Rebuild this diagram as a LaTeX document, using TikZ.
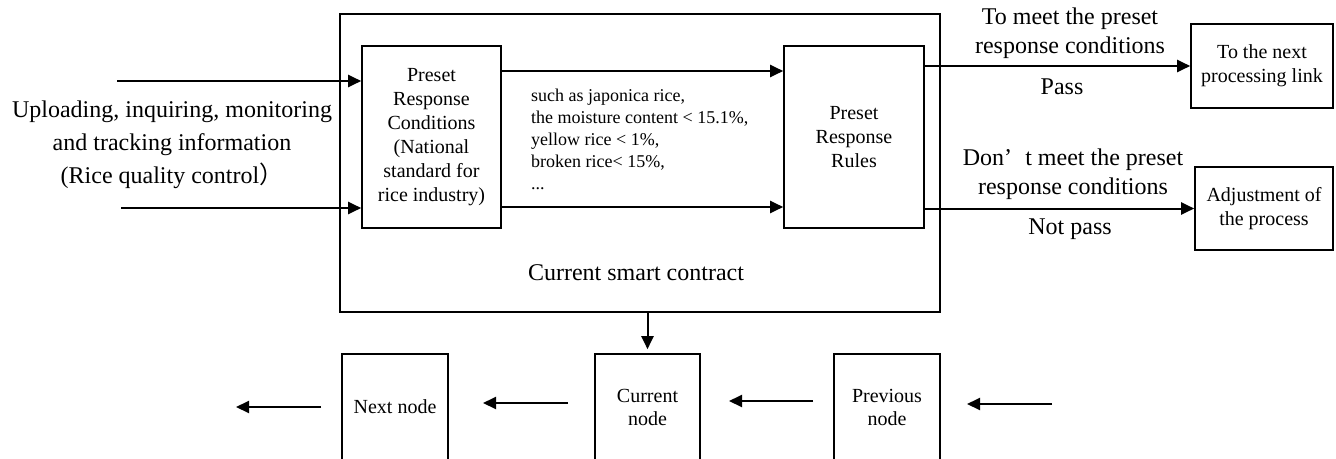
\documentclass[tikz,border=0pt]{standalone}
\usepackage{fontspec}
\setmainfont{Liberation Serif}
\newfontfamily\cjkf{Noto Sans CJK SC}
\usetikzlibrary{arrows.meta}
\begin{document}
\begin{tikzpicture}[x=1pt,y=-1pt,
  box/.style={draw, line width=1.6pt, inner sep=0pt, align=center},
  arr/.style={line width=2pt, -{Triangle[length=13pt,width=12pt]}},
  lbl/.style={inner sep=0pt, align=center},
  fbig/.style={font=\fontsize{24}{29}\selectfont},
  fbox/.style={font=\fontsize{20}{24}\selectfont},
  fnode/.style={font=\fontsize{20}{23}\selectfont}]
\useasboundingbox (0,0) rectangle (1336,458);
\clip (0,0) rectangle (1336,458);
\fill[white] (0,0) rectangle (1336,458);
% main contract box
\node[box, minimum width=600, minimum height=298] (sc) at (640,163) {};
\node[box, fbox, minimum width=139, minimum height=182] (pc) at (431.5,137)
  {Preset\\Response\\Conditions\\(National\\standard for\\rice industry)};
\node[box, fbox, minimum width=140, minimum height=182] (pr) at (854,137)
  {Preset\\Response\\Rules};
\node[lbl, anchor=west, align=left, font=\fontsize{18}{22}\selectfont] (ex) at (531,139)
  {such as japonica rice,\\the moisture content < 15.1\%,\\yellow rice < 1\%,\\broken rice< 15\%,\\...};
\node[lbl, font=\fontsize{24}{29}\selectfont] (sct) at (636,273) {Current smart contract};
% outcome boxes
\node[box, fbox, minimum width=142, minimum height=84] (nl) at (1262,66)
  {To the next\\processing link};
\node[box, fbox, minimum width=138, minimum height=83] (ad) at (1264,208.5)
  {Adjustment of\\the process};
% outcome labels
\node[lbl, fbig] (t1) at (1070,33) {To meet the preset\\response conditions};
\node[lbl, fbig] (t2) at (1062,87) {Pass};
\node[lbl, fbig] (t3) at (1073,174) {Don’\hspace{0.55em}t meet the preset\\response conditions};
\node[lbl, fbig] (t4) at (1070,229) {Not pass};
% left input text
\node[lbl, font=\fontsize{24}{33}\selectfont] (inp) at (172,145)
  {Uploading, inquiring, monitoring\\and tracking information\\(Rice quality control{\cjkf ）}};
% input arrows
\coordinate (in1) at (117,81);
\coordinate (in2) at (121,208);
\draw[arr] (in1) -- (in1 -| pc.west);
\draw[arr] (in2) -- (in2 -| pc.west);
% middle arrows
\coordinate (m1) at (640,71);
\coordinate (m2) at (640,207);
\draw[arr] (pc.east |- m1) -- (pr.west |- m1);
\draw[arr] (pc.east |- m2) -- (pr.west |- m2);
% output arrows
\draw[arr] (pr.east |- nl.west) -- (nl.west);
\draw[arr] (pr.east |- ad.west) -- (ad.west);
% chain nodes
\node[box, fnode, minimum width=106, minimum height=106] (nx) at (395,407) {Next node};
\node[box, fnode, minimum width=105, minimum height=106] (cu) at (647.5,407) {Current\\node};
\node[box, fnode, minimum width=106, minimum height=106] (pv) at (887,407) {Previous\\node};
\draw[arr] (cu.north |- sc.south) -- ([yshift=4pt]cu.north);
% chain arrows
\coordinate (a1s) at (321,407); \coordinate (a1e) at (236,407);
\coordinate (a2s) at (568,403); \coordinate (a2e) at (483,403);
\coordinate (a3s) at (813,401); \coordinate (a3e) at (729,401);
\coordinate (a4s) at (1052,404); \coordinate (a4e) at (967,404);
\draw[arr] (a1s) -- (a1e);
\draw[arr] (a2s) -- (a2e);
\draw[arr] (a3s) -- (a3e);
\draw[arr] (a4s) -- (a4e);
\end{tikzpicture}
\end{document}
